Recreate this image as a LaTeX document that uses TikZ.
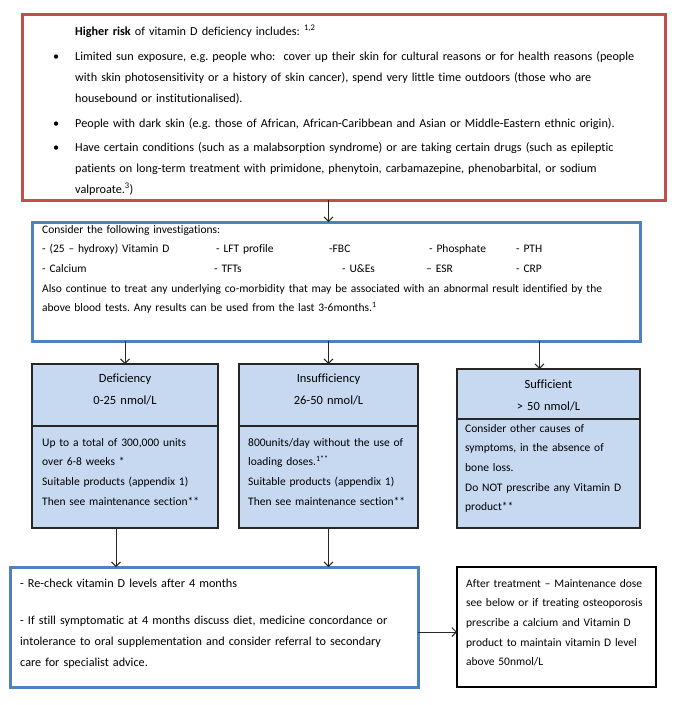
\documentclass[tikz,border=0pt]{standalone}
\usepackage{fontspec}
\setmainfont{Carlito}[Ligatures={TeX,NoCommon}]
\usetikzlibrary{arrows.meta}
\frenchspacing

\definecolor{riskred}{RGB}{192,80,77}
\definecolor{stepblue}{RGB}{79,129,189}
\definecolor{levelfill}{RGB}{198,217,241}

\newcommand{\bigtxt}{\fontsize{12.2}{21}\selectfont}
\newcommand{\headtxt}{\fontsize{12.5}{22.5}\selectfont}
\newcommand{\smalltxt}{\fontsize{11.5}{19.7}\selectfont}
\newcommand{\riskbul}{\makebox[22pt][l]{\textbullet}}
\newcommand{\riskind}{\hspace*{22pt}}

\tikzset{
  box/.style={anchor=north west, inner sep=0pt, outer sep=0pt},
  riskbox/.style={box, draw=riskred, line width=3pt},
  bluebox/.style={box, draw=stepblue, line width=3pt},
  levelbox/.style={box, draw=black!85, fill=levelfill, line width=1.2pt},
  plainbox/.style={box, draw=black, line width=1.1pt},
  txt/.style={anchor=base west, inner sep=0pt, align=left, text width=#1},
  txt/.default=620pt,
  head/.style={anchor=base, inner sep=0pt, align=center, text width=170pt, font=\headtxt},
  flow/.style={draw=black!85, line width=0.9pt, -{Straight Barb[length=4.5pt,width=9pt]}}
}

\begin{document}
\begin{tikzpicture}[x=1pt,y=1pt]
\useasboundingbox (0,0) rectangle (679,-705);

% who is at risk
\node[riskbox, minimum width=643pt, minimum height=186pt] (risk) at (22,-14) {};
\node[txt=640pt, font=\bigtxt] (risktxt) at (53,-35) {\riskind\textbf{Higher risk} of vitamin D deficiency includes: \textsuperscript{1,2}\\[4pt]
\riskbul Limited sun exposure, e.g. people who:\ \ cover up their skin for cultural reasons or for health reasons (people\\
\riskind with skin photosensitivity or a history of skin cancer), spend very little time outdoors (those who are\\
\riskind housebound or institutionalised).\\[4pt]
\riskbul People with dark skin (e.g. those of African, African-Caribbean and Asian or Middle-Eastern ethnic origin).\\[3pt]
\riskbul Have certain conditions (such as a malabsorption syndrome) or are taking certain drugs (such as epileptic\\
\riskind patients on long-term treatment with primidone, phenytoin, carbamazepine, phenobarbital, or sodium\\
\riskind valproate.\textsuperscript{3})};

% blood tests
\node[bluebox, minimum width=608pt, minimum height=119pt] (invest) at (32,-222) {};
\node[txt, font=\smalltxt] (investtxt) at ([shift={(10pt,-11pt)}]invest.north west) {Consider the following investigations:\\
\makebox[174pt][l]{- (25 -- hydroxy) Vitamin D}\makebox[113pt][l]{- LFT profile}\makebox[100pt][l]{-FBC}\makebox[87pt][l]{- Phosphate}- PTH\\
\makebox[172pt][l]{- Calcium}\makebox[128pt][l]{- TFTs}\makebox[84pt][l]{- U\&Es}\makebox[90pt][l]{-- ESR}- CRP\\
Also continue to treat any underlying co-morbidity that may be associated with an abnormal result identified by the\\
above blood tests. Any results can be used from the last 3-6months.\textsuperscript{1}};

% result levels
\node[levelbox, minimum width=186pt, minimum height=62pt] (defichead) at (32,-364) {};
\node[levelbox, minimum width=186pt, minimum height=102pt] (defic) at (defichead.south west) {};
\node[head] (defichtxt) at ([yshift=-18pt]defichead.north) {Deficiency\\0-25 nmol/L};
\node[txt=172pt, font=\smalltxt] (defictxt) at ([shift={(10pt,-20pt)}]defic.north west) {Up to a total of 300,000 units\\
over 6-8 weeks *\\
Suitable products (appendix 1)\\
Then see maintenance section**};

\node[levelbox, minimum width=179pt, minimum height=62pt] (insuffhead) at (239,-364) {};
\node[levelbox, minimum width=179pt, minimum height=102pt] (insuff) at (insuffhead.south west) {};
\node[head] (insuffhtxt) at ([yshift=-18pt]insuffhead.north) {Insufficiency\\26-50 nmol/L};
\node[txt=168pt, font=\smalltxt] (insufftxt) at ([shift={(9pt,-20pt)}]insuff.north west) {800units/day without the use of\\
loading doses.\textsuperscript{1**}\\
Suitable products (appendix 1)\\
Then see maintenance section**};

\node[levelbox, minimum width=183pt, minimum height=50pt] (suffhead) at (457,-369) {};
\node[levelbox, minimum width=183pt, minimum height=109pt] (suff) at (suffhead.south west) {};
\node[head] (suffhtxt) at ([yshift=-19pt]suffhead.north) {Sufficient\\> 50 nmol/L};
\node[txt=172pt, font=\smalltxt] (sufftxt) at ([shift={(8pt,-13pt)}]suff.north west) {Consider other causes of\\
symptoms, in the absence of\\
bone loss.\\
Do NOT prescribe any Vitamin D\\
product**};

% follow up
\node[bluebox, minimum width=408pt, minimum height=120pt] (recheck) at (10,-567) {};
\node[txt=400pt, font=\bigtxt] (rechecktxt) at ([shift={(10pt,-20.5pt)}]recheck.north west) {- Re-check vitamin D levels after 4 months\\[16pt]
- If still symptomatic at 4 months discuss diet, medicine concordance or\\
intolerance to oral supplementation and consider referral to secondary\\
care for specialist advice.};

\node[plainbox, minimum width=199pt, minimum height=120pt] (maint) at (457,-567) {};
\node[txt=195pt, font=\smalltxt] (mainttxt) at ([shift={(9pt,-20pt)}]maint.north west) {After treatment -- Maintenance dose\\
see below or if treating osteoporosis\\
prescribe a calcium and Vitamin D\\
product to maintain vitamin D level\\
above 50nmol/L};

% connectors
\draw[flow] (risk.south -| insuffhead.north) -- (invest.north -| insuffhead.north);
\draw[flow] (invest.south -| defichead.north) -- (defichead.north);
\draw[flow] (invest.south -| insuffhead.north) -- (insuffhead.north);
\coordinate (suffin) at ([xshift=-9pt]suffhead.north);
\draw[flow] (invest.south -| suffin) -- (suffin);
\coordinate (deficout) at ([xshift=-9pt]defic.south);
\draw[flow] (deficout) -- (deficout |- recheck.north);
\draw[flow] (insuff.south) -- (insuff.south |- recheck.north);
\coordinate (recheckout) at ([yshift=-5pt]recheck.east);
\draw[flow] (recheckout) -- (recheckout -| maint.west);
\end{tikzpicture}
\end{document}
